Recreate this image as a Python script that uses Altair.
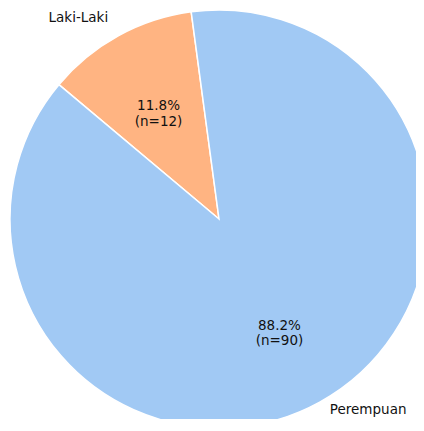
import math
import altair as alt
import pandas as pd

# Data
categories = ["Laki-Laki", "Perempuan"]
counts = [12, 90]
colors = ["#ffb482", "#a1c9f4"]
total = sum(counts)

df = pd.DataFrame({"kategori": categories, "jumlah": counts, "urut": list(range(len(categories)))})

# Layout / style
W, H = 408, 411
CX, CY = 211, 211
R = 209
FONT = "DejaVu Sans"
FS = 13.5
start = math.radians(90 - 140)
theta_scale = alt.Scale(domain=[0, total], range=[start, start + 2 * math.pi])

base = alt.Chart(df).transform_window(
    cum="sum(jumlah)", sort=[alt.SortField("urut")]
).transform_calculate(
    mid="datum.cum - datum.jumlah / 2",
    pct=f"format(datum.jumlah / {total}, '.1%') + '\\n(n=' + datum.jumlah + ')'",
)

arcs = alt.Chart(df).mark_arc(radius=R, stroke="white", strokeWidth=1.5).encode(
    x=alt.value(CX),
    y=alt.value(CY),
    theta=alt.Theta("jumlah:Q", stack=True, scale=theta_scale),
    color=alt.Color("kategori:N", scale=alt.Scale(domain=categories, range=colors), legend=None),
    order=alt.Order("urut:Q"),
)

pct_text = base.mark_text(
    font=FONT, fontSize=FS, lineBreak="\n", lineHeight=15.5, dy=-3,
    align="center", baseline="middle", color="#111"
).encode(
    x=alt.value(CX),
    y=alt.value(CY),
    theta=alt.Theta("mid:Q", stack=False, scale=theta_scale),
    radius=alt.value(R * 0.6),
    text="pct:N",
)

lbl_left = base.transform_filter(alt.datum.kategori == "Laki-Laki").mark_text(
    font=FONT, fontSize=FS, align="right", baseline="middle", color="#111"
).encode(
    x=alt.value(CX),
    y=alt.value(CY),
    theta=alt.Theta("mid:Q", stack=False, scale=theta_scale),
    radius=alt.value(R * 1.1),
    text="kategori:N",
)

lbl_right = base.transform_filter(alt.datum.kategori == "Perempuan").mark_text(
    font=FONT, fontSize=FS, align="left", baseline="middle", color="#111", dy=-10
).encode(
    x=alt.value(CX),
    y=alt.value(CY),
    theta=alt.Theta("mid:Q", stack=False, scale=theta_scale),
    radius=alt.value(R * 1.1),
    text="kategori:N",
)

chart = alt.layer(arcs, pct_text, lbl_left, lbl_right).properties(
    width=W, height=H, padding=0, autosize=alt.AutoSizeParams(type="none")
).configure_view(stroke=None)

chart.save("out.html", embed_options={"renderer": "svg", "actions": False})
